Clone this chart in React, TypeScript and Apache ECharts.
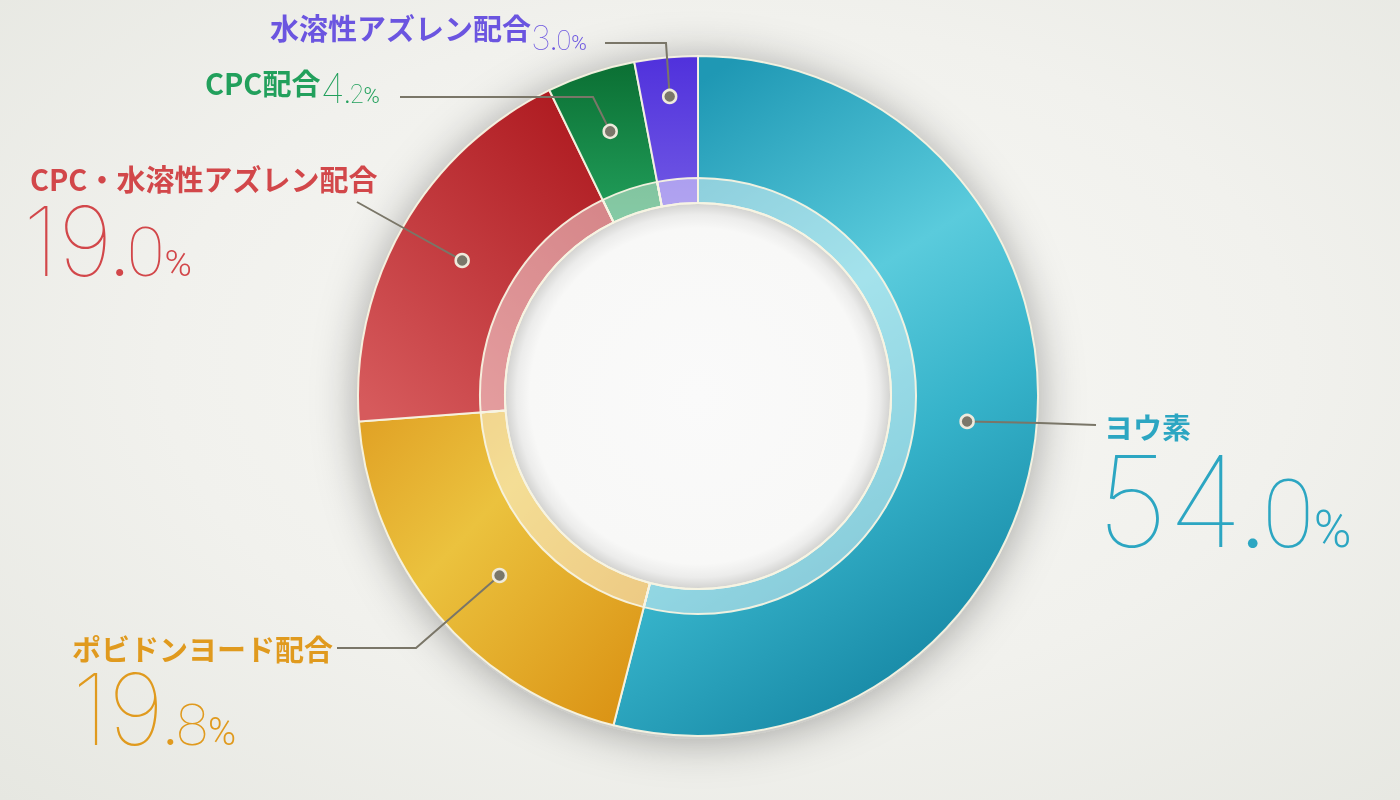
import React, { useEffect, useRef } from 'react';
import * as echarts from 'echarts';

// ---- data ----
const names = ['ヨウ素', 'ポビドンヨード配合', 'CPC・水溶性アズレン配合', 'CPC配合', '水溶性アズレン配合'];
const values = [54.0, 19.8, 19.0, 4.2, 3.0];

// ---- styles ----
const labelColors = ['#2ca6c2', '#e09a1e', '#d2474a', '#22a05c', '#6b55e0'];
const sliceGradients = [
  { x: 0.3, y: 0, x2: 0.7, y2: 1, stops: [[0, '#1f98b4'], [0.38, '#5acbdc'], [0.62, '#36b3ca'], [1, '#12819f']] },
  { x: 0, y: 0, x2: 1, y2: 1, stops: [[0, '#e0a024'], [0.38, '#ebc23e'], [1, '#d98e10']] },
  { x: 0.8, y: 0, x2: 0.1, y2: 1, stops: [[0, '#ae1a20'], [1, '#d65a5c']] },
  { x: 0, y: 0, x2: 0, y2: 1, stops: [[0, '#0b6f33'], [1, '#22a05c']] },
  { x: 0, y: 0, x2: 0, y2: 1, stops: [[0, '#5031dc'], [1, '#7058e4']] },
];
const CJK = '"Noto Sans CJK JP", "Noto Sans CJK SC", sans-serif';
const NUM_INT = 'Inter, Roboto, sans-serif';
const NUM_DEC = 'Roboto, Inter, sans-serif';
const K_INT = 0.363; // central baseline offset (em) of Inter
const K_DEC = 0.342; // central baseline offset (em) of Roboto
const LINE_COLOR = '#7a7668';

// ---- layout ----
const CENTER = [698, 396];
const R_OUT = 340;
const R_IN = 193;
const R_BAND = 218;
const anchorRadius = [0.795, 0.787, 0.8, 0.82, 0.885];
const anchorShift = [-0.5, -0.6, 0, 0, 0];
// x: left edge, cN: centre of the name, B: baseline of the number
const labelBoxes = [
  { x: 1104, cN: 426, B: 547, inline: false, F: 126, fd: 94, fp: 51, ix: -7 },
  { x: 72, cN: 648, B: 745, inline: false, F: 99, fd: 58, fp: 38, ix: 0 },
  { x: 30, cN: 178, B: 276, inline: false, F: 96, fd: 69, fp: 37, ix: -7 },
  { x: 205, cN: 82, B: 103, inline: true, F: 41, fd: 25, fp: 22, ix: 0 },
  { x: 270, cN: 27, B: 50, inline: true, F: 34, fd: 27, fp: 21, ix: 0 },
];
const lineBends = [
  [[1040, 423], [1096, 425]],
  [[416, 648], [337, 648]],
  [[409, 231], [357, 202]],
  [[593, 97], [400, 97]],
  [[666, 43], [605, 43]],
];

function labelGeometry(L: any) {
  // token heights chosen so that every token shares the baseline of the integer part
  const hOf = (f: number, kf: number) => L.F - 2 * (K_INT * L.F - kf * f);
  const ft = Math.round(L.fd * 0.65);
  const common = { ft, hd: hOf(L.fd, K_DEC), hp: hOf(L.fp, K_DEC), ht: hOf(ft, K_INT) };
  if (!L.inline) {
    const line2top = L.B - L.F / 2 - K_INT * L.F;
    const nLH = 2 * (line2top - L.cN);
    return { y: L.cN - nLH / 2, nLH, ...common };
  }
  const bottom = L.B + L.F / 2 - K_INT * L.F;
  const nLH = 2 * (bottom - L.cN);
  const lineH = Math.max(nLH, L.F);
  return { y: bottom - lineH, nLH, ...common };
}

function buildOption(anchors: number[][] | null) {
  const total = values.reduce((s, v) => s + v, 0);
  let cum = 0;
  const dotData = values.map((v, i) => {
    const mid = cum + v / 2 + anchorShift[i];
    cum += v;
    return [anchorRadius[i], mid];
  });
  const geoms = labelBoxes.map(labelGeometry);
  const mainData = names.map((name, i) => {
    const [a, b] = values[i].toFixed(1).split('.');
    const L = labelBoxes[i];
    const G = geoms[i];
    const color = labelColors[i];
    const g = sliceGradients[i];
    return {
      name,
      value: values[i],
      itemStyle: {
        color: new echarts.graphic.LinearGradient(
          g.x, g.y, g.x2, g.y2,
          g.stops.map(([o, c]) => ({ offset: o as number, color: c as string }))
        ),
      },
      label: {
        formatter: `{n|${name}}${L.inline ? '' : '\n'}{i|${a}}{t|.}{d|${b}}{p|%}`,
        overflow: 'none',
        rich: {
          n: { fontFamily: CJK, fontWeight: 'bold', fontSize: 29, height: G.nLH, lineHeight: G.nLH, color, verticalAlign: 'bottom' },
          i: { fontFamily: NUM_INT, fontWeight: 100, fontSize: L.F, height: L.F, lineHeight: L.F, color, verticalAlign: 'bottom', padding: [0, 0, 0, L.ix] },
          t: { fontFamily: NUM_INT, fontWeight: 600, fontSize: G.ft, height: G.ht, lineHeight: G.ht, color, verticalAlign: 'bottom' },
          d: { fontFamily: NUM_DEC, fontWeight: 100, fontSize: L.fd, height: G.hd, lineHeight: G.hd, color, verticalAlign: 'bottom' },
          p: { fontFamily: NUM_DEC, fontWeight: 300, fontSize: L.fp, height: G.hp, lineHeight: G.hp, color, verticalAlign: 'bottom' },
        },
      },
    };
  });

  return {
    animation: false,
    backgroundColor: 'transparent',
    polar: { center: CENTER, radius: R_OUT },
    angleAxis: { type: 'value', min: 0, max: total, startAngle: 90, clockwise: true, show: false },
    radiusAxis: { type: 'value', min: 0, max: 1, show: false },
    graphic: {
      elements: anchors
        ? anchors.map((a, i) => ({
            type: 'polyline',
            silent: true,
            z: 20,
            shape: { points: [a, ...lineBends[i]] },
            style: { stroke: LINE_COLOR, lineWidth: 2, fill: null },
          }))
        : [],
    },
    series: [
      {
        type: 'pie',
        silent: true,
        center: CENTER,
        radius: [0, R_OUT],
        label: { show: false },
        labelLine: { show: false },
        itemStyle: {
          color: '#e4e4e0',
          shadowBlur: 45,
          shadowColor: 'rgba(30,30,20,0.34)',
          shadowOffsetY: 4,
        },
        data: [{ value: 1, name: 'shadow' }],
        z: 1,
      },
      {
        type: 'pie',
        silent: true,
        center: CENTER,
        radius: [0, R_IN],
        label: { show: false },
        labelLine: { show: false },
        itemStyle: {
          color: {
            type: 'radial', x: 0.5, y: 0.5, r: 0.5,
            colorStops: [
              { offset: 0, color: '#fafafa' },
              { offset: 0.87, color: '#f8f8f7' },
              { offset: 0.94, color: '#ececeb' },
              { offset: 1, color: '#d2d2d0' },
            ],
          },
        },
        data: [{ value: 1, name: 'inner' }],
        z: 2,
      },
      {
        type: 'pie',
        center: CENTER,
        radius: [R_IN, R_OUT],
        startAngle: 90,
        clockwise: true,
        avoidLabelOverlap: false,
        silent: true,
        itemStyle: { borderColor: 'rgba(247,243,226,0.95)', borderWidth: 2 },
        label: { show: true, position: 'outside', alignTo: 'none', overflow: 'none' },
        labelLine: { show: false },
        labelLayout: (params: any) => {
          const i = params.dataIndex;
          return { x: labelBoxes[i].x, y: geoms[i].y, align: 'left', verticalAlign: 'top' };
        },
        data: mainData,
        z: 3,
      },
      {
        type: 'pie',
        silent: true,
        center: CENTER,
        radius: [R_IN, R_BAND],
        startAngle: 90,
        clockwise: true,
        label: { show: false },
        labelLine: { show: false },
        itemStyle: { color: 'rgba(255,255,255,0.45)', borderColor: 'rgba(247,243,226,0.95)', borderWidth: 2 },
        data: values.map((v, i) => ({ value: v, name: names[i] })),
        z: 4,
      },
      {
        type: 'scatter',
        coordinateSystem: 'polar',
        silent: true,
        symbol: 'circle',
        symbolSize: 13,
        itemStyle: { color: '#7a776a', borderColor: '#eeeadc', borderWidth: 2.5, opacity: 1 },
        data: dotData,
        z: 30,
      },
    ],
  };
}

export default function App() {
  const ref = useRef<HTMLDivElement>(null);
  useEffect(() => {
    document.body.style.margin = '0';
    const el = ref.current!;
    const chart = echarts.init(el, null, { renderer: 'svg' });
    const opt0 = buildOption(null) as any;
    chart.setOption(opt0);
    const dots = opt0.series[4].data as number[][];
    const anchors = dots.map((d) => chart.convertToPixel({ seriesIndex: 4 } as any, d) as number[]);
    chart.setOption(buildOption(anchors) as any, true);
    return () => chart.dispose();
  }, []);
  return (
    <div
      ref={ref}
      style={{
        position: 'fixed',
        left: 0,
        top: 0,
        width: 1400,
        height: 800,
        background: 'radial-gradient(ellipse at 52% 45%, #f8f8f5 0%, #f1f1ed 55%, #e6e7e1 100%)',
      }}
    />
  );
}
